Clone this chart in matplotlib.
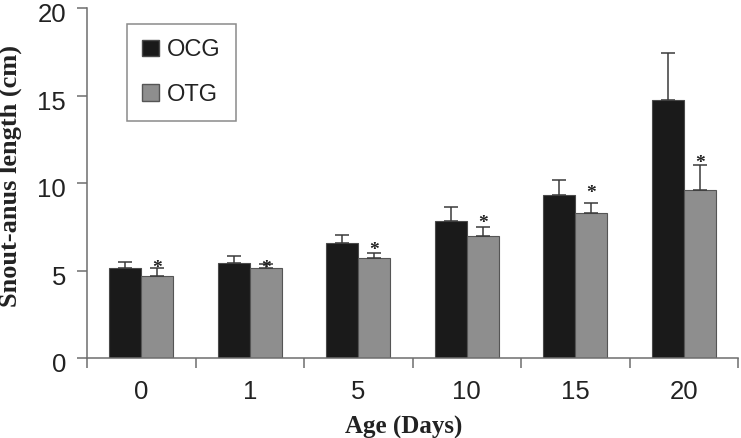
import matplotlib
matplotlib.use("Agg")
import matplotlib.pyplot as plt
import matplotlib.transforms as mtransforms
import numpy as np
from matplotlib.patches import Patch

ages = ["0", "1", "5", "10", "15", "20"]
ocg = [5.15, 5.45, 6.59, 7.82, 9.29, 14.76]
ocg_err = [0.32, 0.38, 0.44, 0.80, 0.89, 2.69]
otg = [4.67, 5.15, 5.70, 6.95, 8.28, 9.61]
otg_err = [0.48, 0.25, 0.30, 0.53, 0.57, 1.44]
star_y = [5.40, 5.41, 6.44, 7.98, 9.69, 11.40]

BLACK = "#1a1a1a"
GREY = "#8e8e8e"
AXIS = "#6e6e6e"
SANS = "Liberation Sans"
SERIF = "Liberation Serif"

fig = plt.figure(figsize=(7.41, 4.38), dpi=100)
ax = fig.add_axes([87 / 741, 1 - 358 / 438, 651 / 741, 350 / 438])

x = np.arange(len(ages))
w = 0.295
err_kw = dict(ecolor="#3a3a3a", elinewidth=1.1, capsize=5, capthick=1.1)
ax.bar(x - w / 2, ocg, w, color=BLACK, edgecolor="#4a4a4a", linewidth=0.8,
       yerr=[np.zeros(len(ocg)), ocg_err], error_kw=err_kw, zorder=2)
ax.bar(x + w / 2, otg, w, color=GREY, edgecolor="#555555", linewidth=0.8,
       yerr=[np.zeros(len(otg)), otg_err], error_kw=err_kw, zorder=2)

for xi, sy in zip(x + w / 2, star_y):
    ax.annotate("*", (xi, sy), xytext=(0, -7), textcoords="offset points",
                ha="center", va="baseline", fontsize=14, fontweight="bold",
                family=SERIF, color="#222222")

ax.set_xlim(-0.5, len(ages) - 0.5)
ax.set_ylim(0, 20)
ax.set_yticks([0, 5, 10, 15, 20])
ax.set_xticks(x)
ax.set_xticklabels(ages)
ax.set_xticks(np.arange(-0.5, len(ages)), minor=True)

for side in ["top", "right"]:
    ax.spines[side].set_visible(False)
for side in ["left", "bottom"]:
    ax.spines[side].set_color(AXIS)
    ax.spines[side].set_linewidth(1.1)

ax.tick_params(axis="x", which="major", length=0, pad=16)
ax.tick_params(axis="x", which="minor", length=7, width=1.1, color=AXIS)
ax.tick_params(axis="y", length=7, width=1.1, color=AXIS, pad=8)
for lab in ax.get_xticklabels() + ax.get_yticklabels():
    lab.set_family(SANS)
    lab.set_fontsize(18.5)
    lab.set_color("#222222")

# nudge y tick labels down a little, as in the original
shift = mtransforms.ScaledTranslation(0, -3.5 / 72, fig.dpi_scale_trans)
for lab in ax.get_yticklabels():
    lab.set_transform(lab.get_transform() + shift)

ax.set_ylabel("Snout-anus length (cm)", family=SERIF, fontweight="bold",
              fontsize=19, color="#222222")
ax.yaxis.set_label_coords(-0.1, 0.52)
ax.set_xlabel("Age (Days)", family=SERIF, fontweight="bold", fontsize=18,
              color="#222222")
ax.xaxis.set_label_coords(0.487, -0.165)

handles = [Patch(facecolor=BLACK, edgecolor="#4a4a4a", label="OCG"),
           Patch(facecolor=GREY, edgecolor="#555555", label="OTG")]
leg = ax.legend(handles=handles, loc="upper left",
                bbox_to_anchor=((127 - 87) / 651, (358 - 24) / 350),
                borderaxespad=0, fancybox=False, frameon=True,
                prop={"family": SANS, "size": 17},
                handlelength=0.7, handleheight=0.7, handletextpad=0.35,
                labelspacing=0.95, borderpad=0.65)
leg.get_frame().set_edgecolor(AXIS)
leg.get_frame().set_linewidth(1.1)
for t in leg.get_texts():
    t.set_color("#222222")

fig.savefig("out.png", dpi=100)
